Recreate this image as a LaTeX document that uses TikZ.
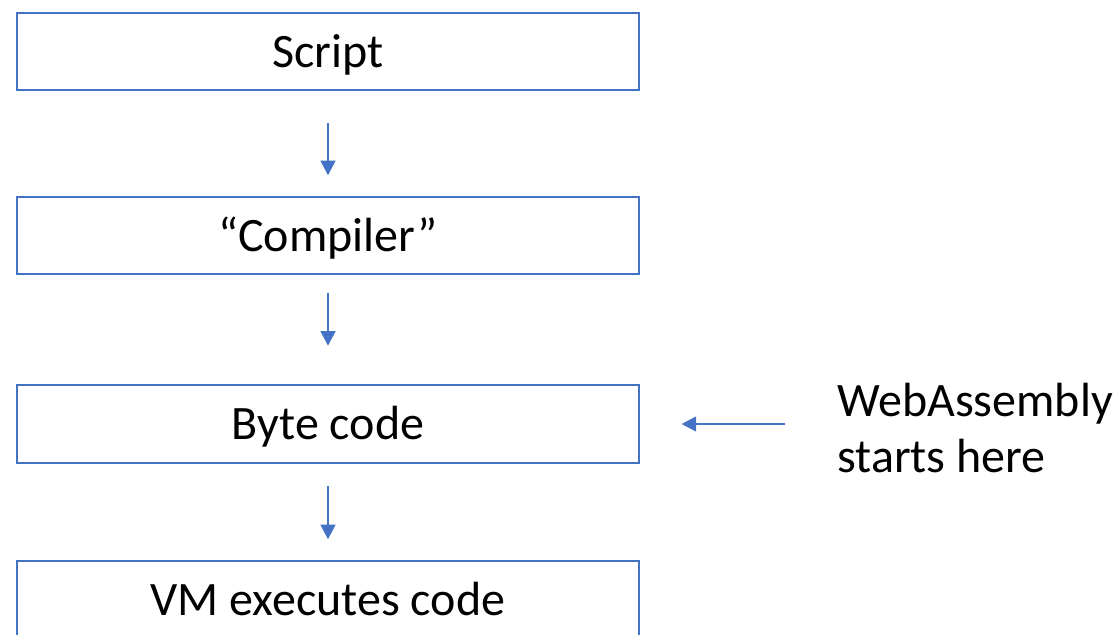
\documentclass[tikz,border=0pt]{standalone}
\usepackage{fontspec}
\setmainfont{Carlito}
\usetikzlibrary{arrows.meta}
\definecolor{office}{HTML}{4472C4}
\tikzset{
  box/.style={draw=office, line width=1.3pt, rectangle, minimum width=466pt, minimum height=58pt, inner sep=0pt, text height=30pt, text depth=6.5pt, font=\fontsize{36pt}{43pt}\selectfont},
  arr/.style={draw=office, line width=1.9pt, -{Triangle[length=11pt,width=11pt]}},
  lbl/.style={align=left, inner sep=0pt, font=\fontsize{36pt}{42.5pt}\selectfont}
}
\begin{document}
\begin{tikzpicture}[x=0.75pt,y=-0.75pt]
\useasboundingbox (0,0) rectangle (1115,635);
\clip (0,0) rectangle (1115,635);
\node[box] (script) at (328,51.5) {Script};
\node[box] (comp) at (328,235.5) {“Compiler”};
\node[box] (byte) at (328,424) {Byte code};
\node[box] (vm) at (328,599.5) {VM executes code};
\node[lbl, anchor=west] (wa) at (837,428) {WebAssembly\\starts here};
\draw[arr, shorten <=24pt, shorten >=15.5pt] (script.south) -- (comp.north);
\draw[arr, shorten <=13.5pt, shorten >=29pt] (comp.south) -- (byte.north);
\draw[arr, shorten <=17pt, shorten >=15.5pt] (byte.south) -- (vm.north);
\draw[arr, shorten <=39pt, shorten >=31.5pt] (wa.west |- byte.east) -- (byte.east);
\end{tikzpicture}
\end{document}
